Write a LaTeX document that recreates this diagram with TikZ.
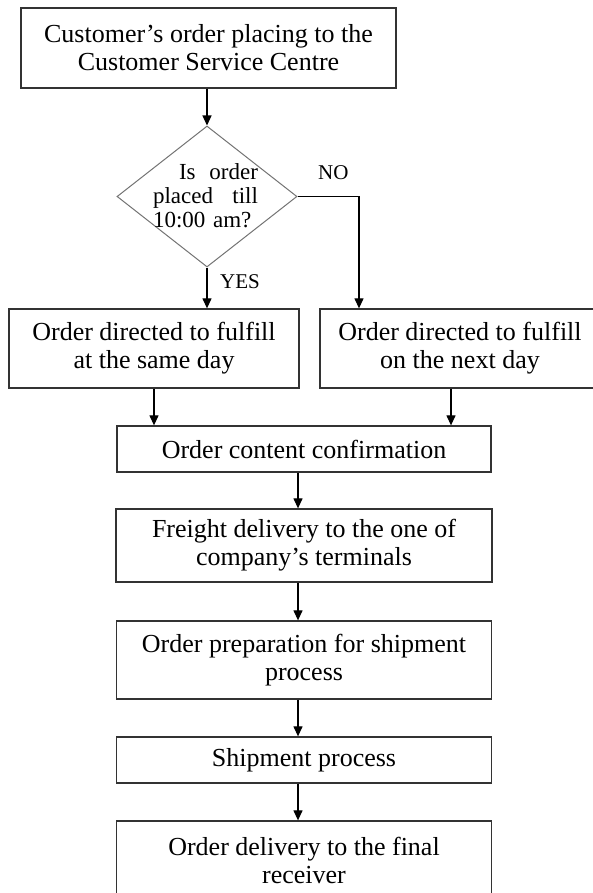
\documentclass[tikz,border=0pt]{standalone}
\usepackage{fontspec}
\setmainfont{Liberation Serif}
\usetikzlibrary{shapes.geometric}
\usetikzlibrary{arrows.meta}

\tikzset{
  stepbox/.style={draw=black!80, line width=1.3pt, rectangle, align=center,
    inner sep=0pt, font=\fontsize{26}{28}\selectfont},
  decision/.style={draw=black!55, line width=1pt, diamond, inner sep=0pt},
  answer/.style={inner sep=0pt, font=\fontsize{21}{23}\selectfont},
  flow/.style={draw=black, line width=1.2pt, -{Triangle[length=10pt,width=9pt]}}
}

\begin{document}
\begin{tikzpicture}[x=1pt,y=-1pt]
  \clip (0,0) rectangle (593,893);
  % order intake and the 10:00 check
  \node[stepbox, minimum width=375pt, minimum height=80pt] (order) at (208.5,48)
    {Customer’s order placing to the\\Customer Service Centre};
  \node[decision, minimum width=180pt, minimum height=141pt] (query) at (207,196.5) {};
  \node[inner sep=0pt, text width=105pt, align=left, font=\fontsize{23}{24}\selectfont]
    (querytext) at (205.5,196) {\hspace*{26pt}Is\hfill order\\placed\hfill till\\10:00 am?};
  \node[answer, anchor=west] (no) at (318,173) {NO};
  \node[answer, anchor=west] (yes) at (220,282) {YES};
  \coordinate (nocorner) at (359,196.5);

  \node[stepbox, minimum width=290pt, minimum height=79pt] (same) at (154,348.5)
    {Order directed to fulfill\\at the same day};
  \node[stepbox, minimum width=280pt, minimum height=79pt] (next) at (460,348.5)
    {Order directed to fulfill\\on the next day};

  % main chain
  \node[stepbox, minimum width=374pt, minimum height=46pt] (confirm) at (304,449)
    {Order content confirmation};
  \node[stepbox, minimum width=376pt, minimum height=73pt] (freight) at (304,545.5)
    {Freight delivery to the one of\\company’s terminals};
  \node[stepbox, minimum width=375pt, minimum height=78pt] (prep) at (304,660)
    {Order preparation for shipment\\process};
  \node[stepbox, minimum width=375pt, minimum height=46pt] (ship) at (304,760)
    {Shipment process};
  \node[stepbox, minimum width=375pt, minimum height=78pt] (final) at (304,860)
    {Order delivery to the final\\receiver};

  % connectors
  \draw[flow] (query.north |- order.south) -- (query.north);
  \draw[flow] (query.south) -- (query.south |- same.north);
  \draw[flow] (query.east) -- (nocorner) -- (nocorner |- next.north);
  \draw[flow] (same.south) -- (same.south |- confirm.north);
  \draw[flow] ([xshift=-9pt]next.south) -- ([xshift=-9pt]next.south |- confirm.north);
  \foreach \a/\b in {confirm/freight, freight/prep, prep/ship, ship/final}
    \draw[flow] ([xshift=-6pt]\a.south) -- ([xshift=-6pt]\b.north);
\end{tikzpicture}
\end{document}
